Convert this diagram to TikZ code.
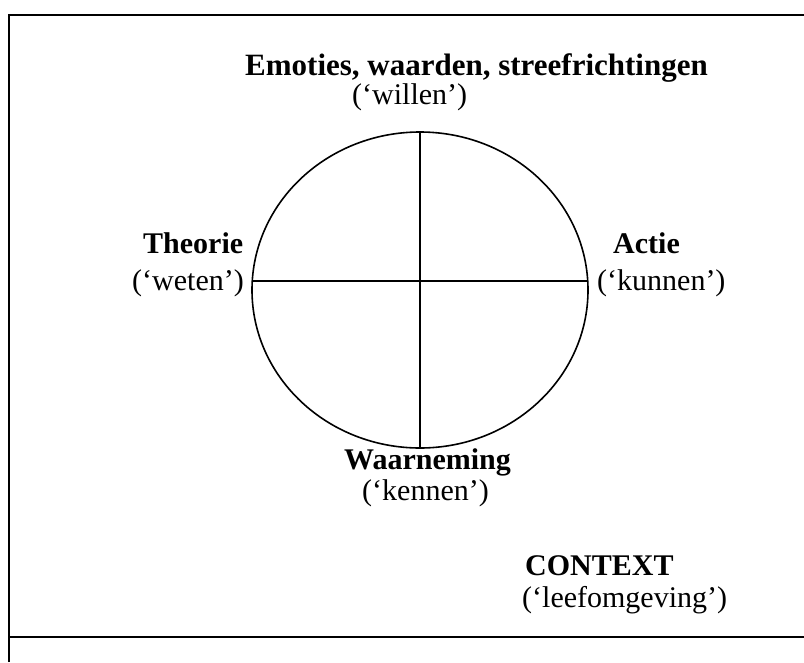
\documentclass[tikz,border=0pt]{standalone}
\usepackage{fontspec}
\setmainfont{Liberation Serif}
\usetikzlibrary{shapes.geometric}
\begin{document}
\begin{tikzpicture}[x=1pt,y=-1pt,
  lbl/.style={inner sep=0pt,anchor=base west,font=\fontsize{30}{36}\selectfont},
  bl/.style={lbl,font=\fontsize{30}{36}\selectfont\bfseries},
  frame/.style={line width=2pt},
  ring/.style={line width=1.6pt}]
\useasboundingbox (0,0) rectangle (804,662);
% frame
\coordinate (fbl) at (9,662);
\coordinate (ftl) at (9,15);
\coordinate (ftr) at (804,15);
\coordinate (fml) at (9,637);
\coordinate (fmr) at (804,637);
\draw[frame] (fbl) -- (ftl) -- (ftr);
\draw[frame] (fml) -- (fmr);
% circle
\node[ring,draw,ellipse,inner sep=0pt,minimum width=336pt,minimum height=316pt] (c) at (420,290) {};
\coordinate (hl) at (252.3,281);
\coordinate (hr) at (587.7,281);
\draw[ring] (c.north) -- (c.south);
\draw[ring] (hl) -- (hr);
% labels
\node[bl,font=\fontsize{31}{36}\selectfont\bfseries] (emo) at (245,75) {Emoties, waarden, streefrichtingen};
\node[lbl] (wil) at (352,104) {(‘willen’)};
\node[bl] (theo) at (143,253) {Theorie};
\node[lbl] (wet) at (132,290) {(‘weten’)};
\node[bl] (act) at (613,253) {Actie};
\node[lbl] (kun) at (597,290) {(‘kunnen’)};
\node[bl] (waar) at (344,469) {Waarneming};
\node[lbl] (ken) at (362,500) {(‘kennen’)};
\node[bl] (ctx) at (525,575) {CONTEXT};
\node[lbl] (leef) at (522,607) {(‘leefomgeving’)};
\end{tikzpicture}
\end{document}
